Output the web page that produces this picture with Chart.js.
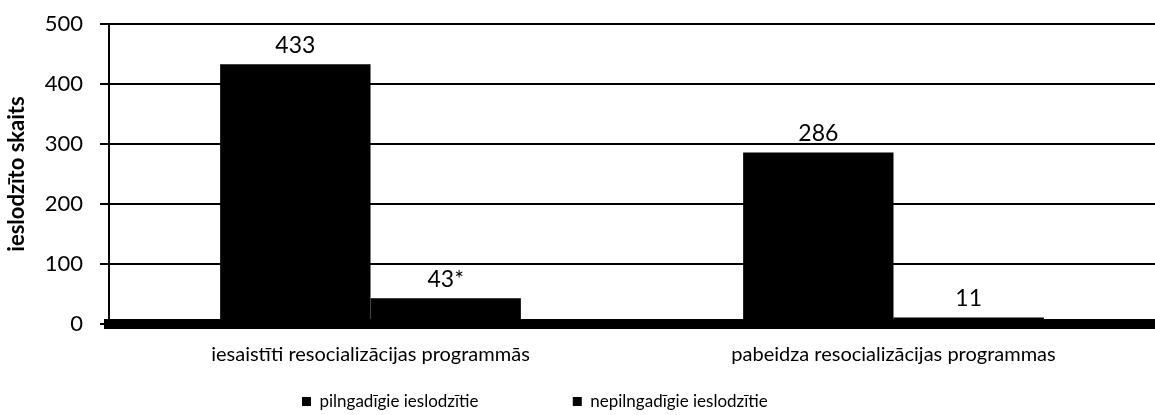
<!DOCTYPE html>
<html>
<head>
<meta charset="utf-8">
<script src="https://cdn.jsdelivr.net/npm/chart.js@4.4.0/dist/chart.umd.min.js"></script>
<style>
  html, body { margin: 0; padding: 0; background: #fff; }
  #wrap { width: 1155px; height: 415px; }
</style>
</head>
<body>
<div id="wrap"><canvas id="prisonChart"></canvas></div>
<script>
const categories = ['iesaistīti resocializācijas programmās', 'pabeidza resocializācijas programmas'];
const adultValues = [433, 286];
const minorValues = [43, 11];
const adultLabels = ['433', '286'];
const minorLabels = ['43*', '11'];
const yTicks = [0, 100, 200, 300, 400, 500];

const FONT = 'Lato, "Open Sans", sans-serif';

// draws the value above each bar
const valueLabels = {
    id: 'valueLabels',
    afterDatasetsDraw(chart) {
        const ctx = chart.ctx;
        ctx.save();
        ctx.fillStyle = '#000';
        ctx.font = '23px ' + FONT;
        ctx.textAlign = 'center';
        ctx.textBaseline = 'alphabetic';
        chart.data.datasets.forEach((ds, i) => {
            chart.getDatasetMeta(i).data.forEach((bar, j) => {
                ctx.fillText(ds.valueText[j], bar.x, bar.y - 11);
            });
        });
        ctx.restore();
    }
};

const EM = '\u2003';

new Chart(document.getElementById('prisonChart').getContext('2d'), {
    type: 'bar',
    data: {
        labels: categories,
        datasets: [{
            label: 'pilngadīgie ieslodzītie',
            data: adultValues,
            valueText: adultLabels,
            backgroundColor: '#000',
            borderWidth: 0
        }, {
            label: 'nepilngadīgie ieslodzītie',
            data: minorValues,
            valueText: minorLabels,
            backgroundColor: '#000',
            borderWidth: 0
        }]
    },
    options: {
        responsive: true,
        maintainAspectRatio: false,
        animation: false,
        layout: { padding: { left: 4, right: 0, top: 24, bottom: -5 } },
        datasets: { bar: { categoryPercentage: 0.575, barPercentage: 1.0 } },
        plugins: {
            tooltip: { enabled: false },
            legend: {
                position: 'bottom',
                labels: {
                    color: '#000',
                    font: { family: FONT, size: 17 },
                    boxWidth: 9,
                    boxHeight: 9,
                    padding: 5,
                    generateLabels(chart) {
                        const items = Chart.defaults.plugins.legend.labels.generateLabels(chart);
                        items[0].text += EM.repeat(7);
                        items[1].text += EM.repeat(7);
                        return items;
                    }
                }
            }
        },
        scales: {
            x: {
                afterFit(axis) { axis.height = 64; },
                grid: { display: false, drawTicks: false },
                border: { color: '#000', width: 10 },
                ticks: {
                    color: '#000',
                    font: { family: FONT, size: 20 },
                    padding: 19,
                    maxRotation: 0
                }
            },
            y: {
                min: 0,
                max: 500,
                afterBuildTicks(axis) {
                    axis.ticks = yTicks.map(v => ({ value: v }));
                },
                afterFit(axis) {
                    axis.width = 105;
                    axis.paddingTop = 0;
                    axis.paddingBottom = 0;
                },
                grid: { color: '#000', lineWidth: 2, tickLength: 9, tickColor: '#000' },
                border: { color: '#000', width: 2 },
                ticks: {
                    color: '#000',
                    font: { family: FONT, size: 22 },
                    padding: 17
                },
                title: {
                    display: true,
                    text: 'ieslodzīto skaits',
                    color: '#000',
                    font: { family: FONT, size: 22, weight: 'bold' },
                    padding: 0
                }
            }
        }
    },
    plugins: [valueLabels]
});
</script>
</body>
</html>
